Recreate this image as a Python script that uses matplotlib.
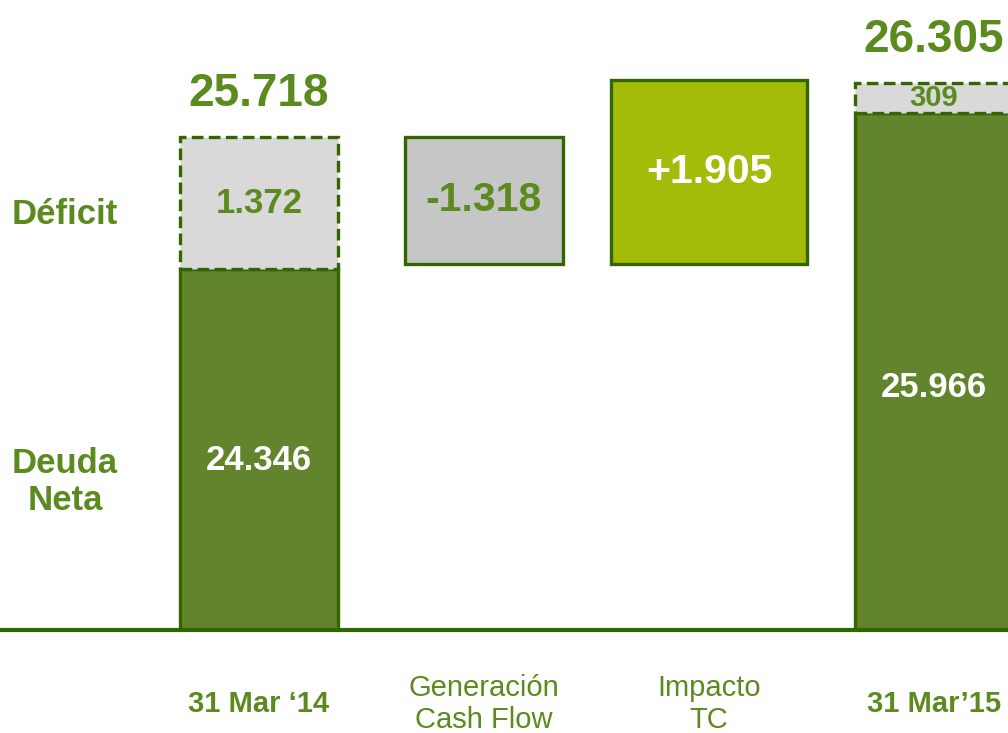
import matplotlib.pyplot as plt
from matplotlib import transforms

# data (millones)
categories = ["31 Mar \u201814", "Generaci\u00f3n\nCash Flow", "Impacto\nTC", "31 Mar\u201915"]
deuda_neta = [24346, 25966]
deficit = [1372, 309]
totales = [25718, 26305]
cash_flow = -1318
impacto_tc = 1905

dark = '#336600'
green_txt = '#5b8a1e'
bar_green = '#62842c'


def fmt(v, sign=False):
    s = f"{abs(v):,}".replace(",", ".")
    if sign:
        return ("+" if v > 0 else "-") + s
    return s


fig = plt.figure(figsize=(10.08, 7.33), dpi=100)
ax = fig.add_axes([0, 0.1405, 1, 0.8595])

y0 = 20600
ax.set_ylim(y0, 27140)
ax.set_xlim(-1.151, 3.329)
xpos = [0, 1, 2, 3]
w = 0.70

bold = dict(family=['Liberation Sans', 'DejaVu Sans'], fontweight='bold')

# first and last columns: deuda neta + deficit
for i, x in enumerate([xpos[0], xpos[3]]):
    ax.bar(x, deuda_neta[i] - y0, bottom=y0, width=w, color=bar_green,
           edgecolor=dark, linewidth=2.4, zorder=2)
    ax.bar(x, deficit[i], bottom=deuda_neta[i], width=w, color='#d9d9d9',
           edgecolor=dark, linewidth=2.4, linestyle=(0, (3.5, 1.6)), zorder=2)
    ax.text(x, y0 + 0.47 * (deuda_neta[i] - y0), fmt(deuda_neta[i]),
            ha='center', va='center', color='white', fontsize=25, **bold)
    ax.text(x, deuda_neta[i] + deficit[i] / 2, fmt(deficit[i]),
            ha='center', va='center', color=green_txt, fontsize=25 if i == 0 else 21,
            zorder=3, **bold)
    ax.annotate(fmt(totales[i]), (x, deuda_neta[i] + deficit[i]),
                xytext=(0, 15), textcoords='offset points', ha='center',
                va='bottom', color=green_txt, fontsize=33, **bold)

# generacion cash flow
cf_top = totales[0]
cf_bot = totales[0] + cash_flow
ax.bar(xpos[1], cf_top - cf_bot, bottom=cf_bot, width=w, color='#c6c6c6',
       edgecolor=dark, linewidth=2.4, zorder=2)
ax.text(xpos[1], (cf_top + cf_bot) / 2, fmt(cash_flow, True), ha='center',
        va='center', color=green_txt, fontsize=29.5, **bold)

# impacto tipo de cambio
ax.bar(xpos[2], impacto_tc, bottom=cf_bot, width=0.87, color='#a4bb0a',
       edgecolor=dark, linewidth=2.4, zorder=2)
ax.text(xpos[2], cf_bot + impacto_tc / 2, fmt(impacto_tc, True), ha='center',
        va='center', color='white', fontsize=29.5, **bold)

# side labels
ax.annotate("D\u00e9ficit", (-0.862, deuda_neta[0] + deficit[0] / 2),
            xytext=(0, -8), textcoords='offset points', ha='center',
            va='center', color=green_txt, fontsize=25, **bold)
ax.text(-0.862, y0 + 0.41 * (deuda_neta[0] - y0), "Deuda\nNeta", ha='center',
        va='center', color=green_txt, fontsize=25, linespacing=1.15, **bold)

# category labels
trans = transforms.blended_transform_factory(ax.transData, ax.transAxes)
narrow = ['Liberation Sans Narrow', 'Liberation Sans', 'DejaVu Sans']
for x, lab in zip(xpos, categories):
    is_date = '\n' not in lab
    ax.text(x, -0.117, lab, transform=trans, ha='center', va='center',
            color=green_txt, fontsize=21,
            fontweight='bold' if is_date else 'normal', family=narrow,
            linespacing=1.2)

for s in ['top', 'left', 'right']:
    ax.spines[s].set_visible(False)
ax.spines['bottom'].set_color(dark)
ax.spines['bottom'].set_linewidth(3)
ax.spines['bottom'].set_zorder(3)
ax.set_xticks([])
ax.set_yticks([])

fig.savefig('out.png', dpi=100)
